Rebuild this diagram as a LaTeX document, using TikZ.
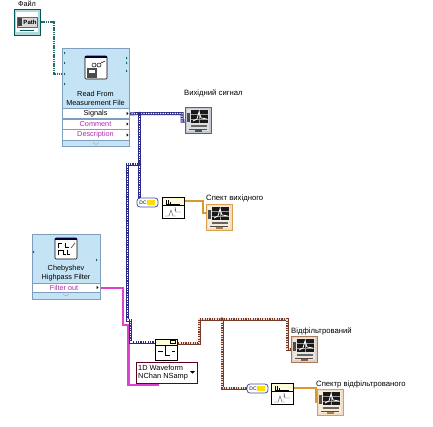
\documentclass[tikz,border=0pt]{standalone}
\usepackage{fontspec}
\setmainfont{Liberation Sans}
\definecolor{paneblue}{HTML}{C4E4F6}
\definecolor{paneedge}{HTML}{7F9DBD}
\definecolor{bluewire}{HTML}{2A2A86}
\definecolor{brownwire}{HTML}{7A3A28}
\definecolor{pinkwire}{HTML}{E040D0}
\definecolor{tealwire}{HTML}{1F6F68}
\definecolor{orangewire}{HTML}{D89A30}
\definecolor{purpletext}{HTML}{B02CB0}
\definecolor{frameblue}{HTML}{5A6078}
\definecolor{framebrown}{HTML}{A87858}
\definecolor{frameorange}{HTML}{D8A050}
\tikzset{
  x=1pt,y=-1pt,
  lbl/.style={font=\fontsize{7.3pt}{8pt}\selectfont,inner sep=0pt,text=black},
  tl/.style={font=\fontsize{7.7pt}{8pt}\selectfont,inner sep=0pt,text=black,anchor=west},
  pane/.style={fill=paneblue,draw=paneedge,line width=.7pt},
  rowbox/.style={fill=white,draw=paneedge,line width=.4pt},
  bluedyn/.style={line width=3pt,draw=bluewire},
  bluedots/.style={line width=1.2pt,draw=white,dash pattern=on 1.2pt off 1.2pt},
  browndyn/.style={line width=3pt,draw=brownwire},
  browndots/.style={line width=1.2pt,draw=white!85!brownwire,dash pattern=on 1.2pt off 1.2pt},
  pinkw/.style={line width=2.4pt,draw=pinkwire},
  tealw/.style={line width=1.2pt,draw=tealwire,dash pattern=on 1.2pt off .6pt},
  orangew/.style={line width=1.4pt,draw=orangewire},
  jn/.style={circle,fill=#1,inner sep=0pt,minimum size=3.6pt}
}
\newcommand{\graphind}[3]{% x y edge colour
  \begin{scope}[shift={(#1,#2)}]
    \fill[#3!35!white,draw=#3,line width=.9pt] (0,0) rectangle (26,26);
    \fill[white!80!#3] (2,2) rectangle (24,24);
    \fill[black!90] (6,3) rectangle (23,16);
    \draw[white!60!black,line width=.25pt] (14,3)--(14,16) (6,7)--(23,7) (6,12)--(23,12);
    \draw[white,line width=.8pt] (8,14)--(12,12)--(14,5)--(16,11)--(22,12);
    \fill[black!70] (2,6) rectangle (5,15);
    \fill[black!60] (6,18) rectangle (22,20);
    \draw[black!70,line width=.5pt] (4,22)--(22,22);
    \fill[#3!80!black] (10,23) rectangle (17,25);
  \end{scope}}
\newcommand{\filtericon}[2]{%
  \begin{scope}[shift={(#1,#2)}]
    \fill[white,draw=black,line width=.6pt,rounded corners=1pt] (0,0) rectangle (22,21);
    \fill[black!80!blue] (0,0) rectangle (22,2);
    \draw[black,line width=.5pt] (3,10)--(3,5)--(7,5) (3,17)--(3,12)--(8,12)--(8,16)--(11,16) (10,5)--(10,9)--(14,9) (12,12)--(12,16)--(15,16);
    \draw[black!70,line width=.7pt] (16,10)--(20,5);
  \end{scope}}
\newcommand{\readicon}[2]{%
  \begin{scope}[shift={(#1,#2)}]
    \fill[white,draw=black,line width=.6pt,rounded corners=1pt] (0,0) rectangle (22,23);
    \fill[black!80!blue] (0,0) rectangle (22,2);
    \draw[black,line width=.5pt] (9,9) circle (2) (14,9) circle (2);
    \draw[black,line width=.5pt] (16,7)--(20,5);
    \fill[black!70] (2,12) rectangle (12,22);
    \fill[white] (4,14) rectangle (10,17);
  \end{scope}}
\newcommand{\specicon}[2]{%
  \begin{scope}[shift={(#1,#2)}]
    \fill[white] (0,0) rectangle (22,21);
    \fill[yellow!15] (0,0) rectangle (22,8);
    \draw[black,line width=.7pt] (0,0) rectangle (22,21) (0,8)--(22,8);
    \draw[black,line width=.6pt] (4,3)--(4,7) (6,3)--(6,7) (8,5)--(8,7) (4,7)--(18,7);
    \draw[black!70,line width=.4pt] (13,14)--(13,10)--(14,15)--(19,15) (3,19)--(7,19)--(9,13)--(11,19)--(14,19);
  \end{scope}}
\newcommand{\brkt}[2]{%
  \begin{scope}[shift={(#1,#2)}]
    \fill[white,draw=blue!50!black!70,line width=.8pt,rounded corners=3pt] (0,0) rectangle (21,9);
    \fill[yellow!80!orange] (10,2) rectangle (18,7);
    \node[inner sep=0pt,font=\fontsize{5pt}{5pt}\selectfont] at (6,4.5) {DC};
  \end{scope}}
\begin{document}
\begin{tikzpicture}
\useasboundingbox (0,0) rectangle (433,426);

% terminal positions
\coordinate (pathout) at (37,22);
\coordinate (readin) at (63,74);
\coordinate (sigout) at (129,114);
\coordinate (sigj) at (139.5,113.5);
\coordinate (branchj) at (139.5,164);
\coordinate (ind1in) at (191,121);
\coordinate (brk1in) at (139.5,198);
\coordinate (convin) at (155,342);
\coordinate (convout) at (177,343);
\coordinate (filtout) at (98,288);
\coordinate (selin) at (158,383);
\coordinate (brownj) at (222,319);
\coordinate (ind3in) at (292,349);
\coordinate (brk2in) at (248,388);
\coordinate (sp1out) at (183,201);
\coordinate (ind2in) at (206,213);
\coordinate (sp2out) at (293,388);
\coordinate (ind4in) at (318,402);

% wires
\draw[tealw] (pathout) -| (54,74) -- (readin);
\draw[pinkw] (filtout) -- (123,288) -- (123,325) -- (128.5,325) -- (128.5,385) -- (158,385) -- (selin);
\foreach \s in {bluedyn,bluedots}{
  \draw[\s] (sigout) -- (sigj) -- (182,113.5) -- (182,121) -- (ind1in);
  \draw[\s] (sigj) -- (branchj) -- (brk1in);
  \draw[\s] (branchj) -- (127.5,164) -- (127.5,320) -- (130.5,320) -- (130.5,342) -- (convin);
}
\foreach \s in {browndyn,browndots}{
  \draw[\s] (convout) -- (199,343) -- (199,319) -- (brownj) -- (287,319) -- (287,349) -- (ind3in);
  \draw[\s] (brownj) -- (222,388) -- (brk2in);
}
\draw[orangew] (sp1out) -- (203,201) -- (203,213) -- (ind2in);
\draw[orangew] (sp2out) -- (316,388) -- (316,402) -- (ind4in);
\node[jn=bluewire] (jblue1) at (sigj) {};
\node[jn=bluewire] (jblue2) at (branchj) {};
\node[jn=brownwire] (jbrown) at (brownj) {};

% File control
\node[lbl] (filelabel) at (27,4) {Файл};
\path[fill=teal!30!white,draw=teal!70!black,line width=1pt] (14,9) rectangle (40,35);
\path[fill=white] (16,12) rectangle (38,32);
\path[fill=black!15,draw=black!60,line width=.4pt] (17,17) rectangle (37,27);
\path[fill=black!75] (18,18) rectangle (22,26);
\node[inner sep=0pt,font=\bfseries\fontsize{6pt}{6pt}\selectfont] (pathtext) at (30,22) {Path};
\draw[teal!70!black,line width=.6pt] (20,30)--(34,30);

% Read from Measurement File
\path[pane] (62,48) rectangle (129.5,146);
\path[rowbox] (62,108) rectangle (129.5,118.5);
\path[rowbox] (62,119) rectangle (129.5,129);
\path[rowbox] (62,129.5) rectangle (129.5,140);
\readicon{85}{56}
\node[lbl] (read1) at (95.5,94) {Read From};
\node[lbl] (read2) at (95.5,103) {Measurement File};
\node[lbl] (sig) at (95.5,113.5) {Signals};
\node[lbl,text=purpletext] (com) at (95.5,124) {Comment};
\node[lbl,text=purpletext] (des) at (95.5,135) {Description};
\foreach \yy in {113.5,124,135} \fill[black] (126.5,\yy-1.7) -- (128.5,\yy) -- (126.5,\yy+1.7) -- cycle;
\foreach \yy in {53,63,74,84} \fill[teal!70!black] (64,\yy-1.3) -- (65.5,\yy) -- (64,\yy+1.3) -- cycle;
\foreach \yy in {58,63,71} \fill[teal!70!black] (126,\yy-1.3) -- (127.5,\yy) -- (126,\yy+1.3) -- cycle;
\draw[black!40,line width=.3pt] (93,142.5)--(96,144.5)--(99,142.5);

% Chebyshev
\path[pane] (32,234) rectangle (100,299);
\path[rowbox] (32,283) rectangle (100,292);
\filtericon{55}{238}
\node[lbl] (cheb1) at (66,269) {Chebyshev};
\node[lbl] (cheb2) at (66,278) {Highpass Filter};
\node[lbl,text=purpletext] (fo) at (64,287.5) {Filter out};
\fill[black] (96.5,285.8) -- (98.5,287.5) -- (96.5,289.2) -- cycle;
\fill[teal!70!black] (33,250.7) -- (34.5,252) -- (33,253.3) -- cycle;
\fill[teal!70!black] (96,258.7) -- (97.5,260) -- (96,261.3) -- cycle;
\draw[black!40,line width=.3pt] (63,294)--(66,296)--(69,294);

% indicators
\graphind{185}{107}{frameblue}
\graphind{206}{204}{frameorange}
\graphind{291}{336}{framebrown}
\graphind{317}{389}{frameorange}
\node[tl] (l1) at (184,93) {Вихідний сигнал};
\node[tl] (l2) at (206,198) {Спект вихідного};
\node[tl] (l3) at (291,331) {Відфільтрований};
\node[tl] (l4) at (316,384) {Спектр відфільтрованого};

% spectrum nodes
\brkt{137}{198}
\specicon{162}{197}
\brkt{247}{384}
\specicon{271}{383}

% 1D waveform conversion
\path[fill=white,draw=black,line width=.7pt] (155,339) rectangle (177,360);
\path[fill=yellow!15,draw=black,line width=.6pt] (155,339) rectangle (177,345);
\draw[black,line width=.5pt] (170,340.5) rectangle (175,343.5);
\draw[black,line width=.7pt] (158,351)--(163,351) (165,346)--(165,355)--(170,355) (172,351)--(175,351);
\path[fill=white,draw=purple!50!black,line width=.8pt] (136,362) rectangle (197,383);
\node[lbl,anchor=west,font=\fontsize{7.4pt}{8pt}\selectfont] (w1) at (138,368) {1D Waveform};
\node[lbl,anchor=west,font=\fontsize{7.4pt}{8pt}\selectfont] (w2) at (138,377) {NChan NSamp};
\fill[black] (190,371) -- (195,371) -- (192.5,373.5) -- cycle;
\end{tikzpicture}
\end{document}
